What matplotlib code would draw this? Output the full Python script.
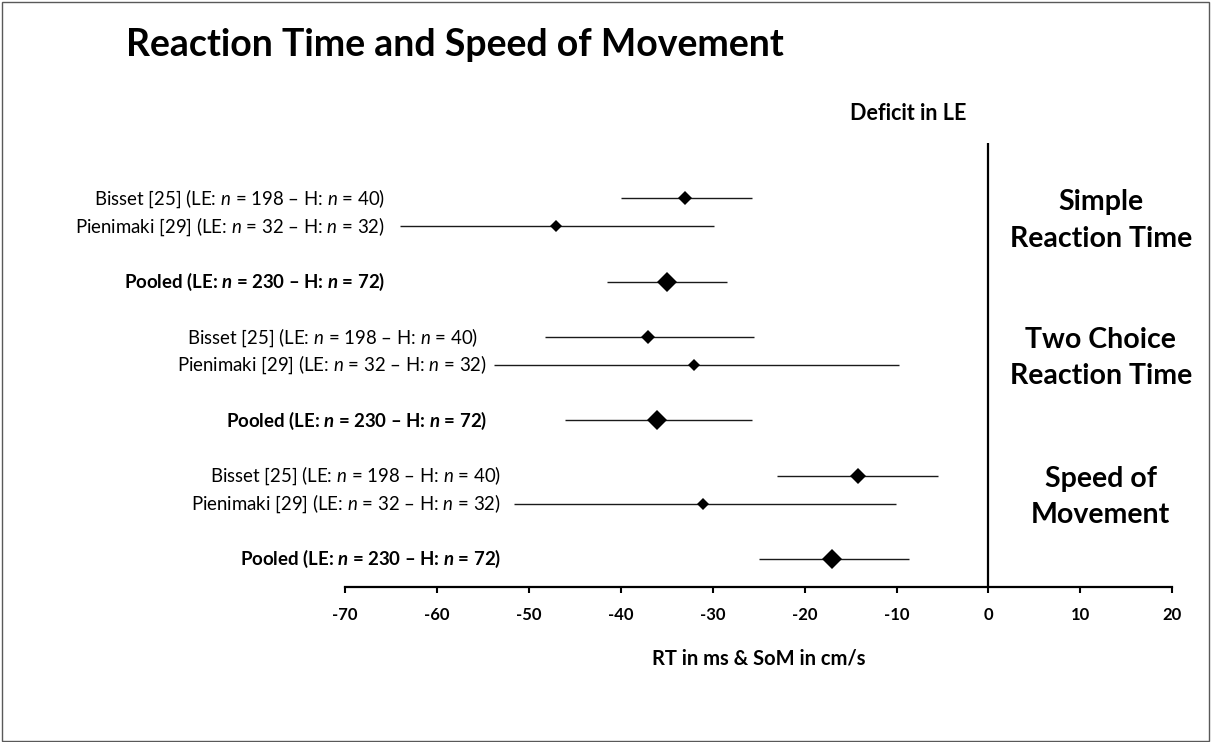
import matplotlib
matplotlib.use("Agg")
import matplotlib.pyplot as plt
from matplotlib.patches import Rectangle

plt.rcParams["font.family"] = ["Lato", "DejaVu Sans"]
plt.rcParams["mathtext.fontset"] = "custom"
plt.rcParams["mathtext.rm"] = "Lato"
plt.rcParams["mathtext.it"] = "Lato:italic"
plt.rcParams["mathtext.bf"] = "Lato:bold"
plt.rcParams["mathtext.bfit"] = "Lato:bold:italic"

# forest plot data, top to bottom (effect, lower CI, upper CI)
row_y = [14, 13, 11, 9, 8, 6, 4, 3, 1]
effect = [-33.0, -47.0, -35.0, -37.0, -32.0, -36.0, -14.2, -31.0, -17.0]
ci_low = [-40.0, -64.0, -41.5, -48.2, -53.8, -46.0, -23.0, -51.6, -25.0]
ci_high = [-25.7, -29.8, -28.4, -25.5, -9.7, -25.7, -5.5, -10.1, -8.6]
is_pooled = [False, False, True, False, False, True, False, False, True]

study_labels = [
    r"Bisset [25] (LE: $\it{n}$ = 198 – H: $\it{n}$ = 40)",
    r"Pienimaki [29] (LE: $\it{n}$ = 32 – H: $\it{n}$ = 32)",
    r"Pooled (LE: $\mathbfit{n}$ = 230 – H: $\mathbfit{n}$ = 72)",
]
# right edge of each row label (data units)
label_x = [-65.6, -65.6, -65.6, -55.5, -54.5, -54.5, -53.0, -53.0, -53.0]

group_names = ["Simple\nReaction Time", "Two Choice\nReaction Time", "Speed of\nMovement"]
group_rows = [13.2, 8.25, 3.25]

x_ticks = list(range(-70, 21, 10))

fig = plt.figure(figsize=(12.11, 7.42), dpi=100)
fig.patches.append(Rectangle((0.002, 0.002), 0.996, 0.995, transform=fig.transFigure,
                             fill=False, edgecolor="#595959", lw=1.0))
ax = fig.add_axes([0.2845, 0.2089, 0.6837, 0.5984])

marker_sizes = [7.3, 6.0, 10.5, 7.3, 6.0, 10.5, 8.0, 6.0, 10.5]
for i in range(len(row_y)):
    ax.errorbar(effect[i], row_y[i],
                xerr=[[effect[i] - ci_low[i]], [ci_high[i] - effect[i]]],
                fmt="D", color="black", ms=marker_sizes[i], mew=0,
                ecolor="#1a1a1a", elinewidth=1.0, capsize=2.6, capthick=1.0)
    txt = study_labels[2] if is_pooled[i] else study_labels[i % 3]
    ax.text(label_x[i], row_y[i], txt, ha="right", va="center", fontsize=13.4,
            fontweight="bold" if is_pooled[i] else "normal", clip_on=False)

for name, gy in zip(group_names, group_rows):
    ax.text(12.2, gy, name, ha="center", va="center", fontsize=20.5,
            fontweight="bold", linespacing=1.5)

ax.axvline(0, color="black", lw=1.6)
ax.text(-8.75, 17.08, "Deficit in LE", ha="center", va="center", fontsize=15.5,
        fontweight="bold", clip_on=False)

ax.set_xlim(-70, 20)
ax.set_ylim(0, 16)
ax.set_xticks(x_ticks)
ax.set_xticklabels([str(t) for t in x_ticks], fontweight="bold", fontsize=12)
ax.set_yticks([])
ax.tick_params(axis="x", direction="out", length=4.5, width=1.5, pad=10)
for s in ["top", "right", "left"]:
    ax.spines[s].set_visible(False)
ax.spines["bottom"].set_linewidth(1.6)
ax.set_xlabel("RT in ms & SoM in cm/s", fontweight="bold", fontsize=14.5, labelpad=18)

fig.text(0.376, 0.939, "Reaction Time and Speed of Movement", ha="center", va="center",
         fontsize=27, fontweight="bold")

fig.savefig("out.png", dpi=100)
